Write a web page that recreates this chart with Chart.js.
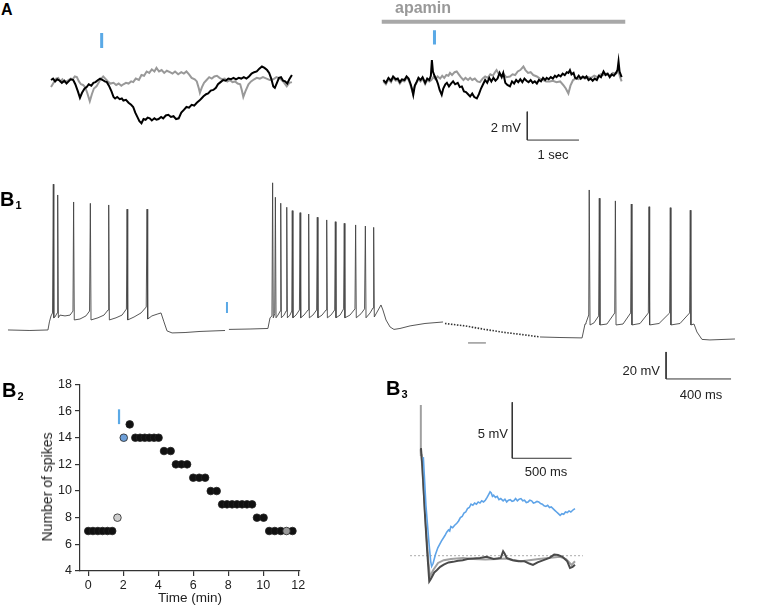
<!DOCTYPE html>
<html>
<head>
<meta charset="utf-8">
<script src="https://cdn.jsdelivr.net/npm/chart.js@4.4.0/dist/chart.umd.min.js"></script>
<style>
body { margin: 0; background: #fff; }
#fig { position: relative; width: 757px; height: 607px; overflow: hidden; font-family: "Liberation Sans", Arial, sans-serif; color: #222; }
canvas { position: absolute; }
.t { position: absolute; font-size: 13px; line-height: 13px; white-space: nowrap; }
.p { position: absolute; font-weight: bold; font-size: 20px; line-height: 20px; color: #000; }
.p sub { font-size: 11px; vertical-align: baseline; position: relative; top: 3px; margin-left: 1px; }
</style>
</head>
<body>
<div id="fig">
  <canvas id="aLeft" width="270" height="160" style="left:40px;top:0"></canvas>
  <canvas id="aRight" width="290" height="160" style="left:370px;top:0"></canvas>
  <canvas id="b1" width="757" height="240" style="left:0;top:170px"></canvas>
  <canvas id="b2" width="320" height="237" style="left:0;top:370px"></canvas>
  <canvas id="b3" width="200" height="200" style="left:400px;top:395px"></canvas>

  <div class="p" style="left:1px;top:2px;font-size:16px;line-height:16px">A</div>
  <div class="p" style="left:0;top:189px">B<sub>1</sub></div>
  <div class="p" style="left:2px;top:380px">B<sub>2</sub></div>
  <div class="p" style="left:386px;top:378px">B<sub>3</sub></div>

  <div class="t" style="left:423px;top:0;transform:translateX(-50%);font-weight:bold;font-size:16px;line-height:16px;color:#999">apamin</div>
  <div class="t" style="left:521px;top:121px;transform:translateX(-100%)">2 mV</div>
  <div class="t" style="left:553px;top:148px;transform:translateX(-50%)">1 sec</div>
  <div class="t" style="left:660px;top:364px;transform:translateX(-100%)">20 mV</div>
  <div class="t" style="left:701px;top:388px;transform:translateX(-50%)">400 ms</div>
  <div class="t" style="left:508px;top:427px;transform:translateX(-100%)">5 mV</div>
  <div class="t" style="left:546px;top:465px;transform:translateX(-50%)">500 ms</div>
  <div class="t" style="left:47px;top:487px;transform:translate(-50%,-50%) rotate(-90deg);font-size:14px;line-height:14px">Number of spikes</div>
</div>

<script>
const FONT = '"Liberation Sans", Arial, sans-serif';
const BLUE = '#5aa9e6';

// ---- A: membrane potential (s, mV), control (left) and apamin (right)
const aLeftGray = [[0.00,-0.5],[0.05,-0.2],[0.10,0.1],[0.14,0.15],[0.18,-0.1],[0.22,0.05],[0.26,-0.15],[0.30,-0.1],[0.34,0.0],[0.38,0.1],[0.42,0.05],[0.46,0.25],[0.50,0.2],[0.54,-0.1],[0.58,-0.3],[0.62,-0.35],[0.66,-0.5],[0.70,-0.9],[0.75,-1.5],[0.79,-1.0],[0.83,-0.6],[0.88,-0.45],[0.92,-0.2],[0.96,0.05],[1.01,0.25],[1.05,0.1],[1.10,-0.1],[1.15,-0.25],[1.21,-0.2],[1.26,-0.35],[1.31,-0.25],[1.36,-0.4],[1.40,-0.3],[1.45,-0.2],[1.50,-0.25],[1.55,-0.1],[1.59,-0.15],[1.64,0.1],[1.70,0.0],[1.75,0.35],[1.80,0.3],[1.85,0.6],[1.90,0.5],[1.95,0.75],[2.00,0.6],[2.04,0.85],[2.09,0.6],[2.14,0.7],[2.19,0.5],[2.24,0.65],[2.30,0.55],[2.35,0.45],[2.40,0.6],[2.46,0.4],[2.52,0.55],[2.57,0.45],[2.62,0.6],[2.67,0.4],[2.72,0.15],[2.78,0.05],[2.82,-0.1],[2.86,-0.6],[2.88,-0.9],[2.92,-0.5],[2.96,-0.2],[3.01,0.0],[3.06,0.2],[3.11,0.1],[3.16,0.25],[3.21,0.3],[3.26,0.15],[3.31,0.05],[3.36,0.1],[3.41,-0.1],[3.46,0.0],[3.51,-0.15],[3.56,-0.1],[3.61,-0.25],[3.66,-0.3],[3.69,-0.7],[3.72,-1.2],[3.76,-0.8],[3.82,-0.3],[3.87,-0.1],[3.93,0.05],[3.98,0.15],[4.04,0.1],[4.10,0.2],[4.17,0.1],[4.23,0.0],[4.30,0.05],[4.36,0.2],[4.43,0.1],[4.49,-0.1],[4.56,-0.45],[4.61,-0.2],[4.66,-0.15]];
const aLeftBlack = [[0.00,0.0],[0.04,0.1],[0.08,-0.1],[0.12,0.05],[0.17,-0.05],[0.21,-0.2],[0.26,-0.05],[0.30,-0.25],[0.34,-0.1],[0.38,0.05],[0.43,0.0],[0.47,-0.3],[0.52,-0.8],[0.56,-1.25],[0.60,-0.9],[0.65,-0.6],[0.69,-0.5],[0.73,-0.3],[0.78,-0.4],[0.82,-0.2],[0.86,-0.15],[0.91,0.0],[0.95,0.1],[1.00,0.0],[1.04,-0.1],[1.08,-0.15],[1.12,-0.4],[1.17,-0.8],[1.21,-1.2],[1.24,-1.3],[1.28,-1.2],[1.33,-1.35],[1.37,-1.3],[1.40,-1.45],[1.45,-1.4],[1.50,-1.6],[1.55,-1.75],[1.59,-1.9],[1.63,-2.3],[1.67,-2.6],[1.71,-2.9],[1.75,-3.05],[1.79,-2.75],[1.83,-2.8],[1.87,-2.65],[1.91,-2.7],[1.95,-2.85],[2.00,-2.7],[2.04,-2.8],[2.08,-2.75],[2.13,-2.6],[2.17,-2.7],[2.22,-2.5],[2.27,-2.45],[2.32,-2.6],[2.37,-2.55],[2.42,-2.75],[2.47,-2.7],[2.52,-2.3],[2.57,-2.1],[2.62,-1.9],[2.67,-1.95],[2.72,-1.75],[2.77,-1.8],[2.82,-1.6],[2.87,-1.45],[2.91,-1.3],[2.95,-1.15],[3.00,-1.0],[3.04,-0.95],[3.09,-0.75],[3.14,-0.7],[3.19,-0.55],[3.23,-0.3],[3.28,-0.15],[3.33,0.0],[3.38,-0.05],[3.43,0.1],[3.48,0.05],[3.53,0.15],[3.58,0.05],[3.63,0.15],[3.68,0.1],[3.73,0.2],[3.78,0.1],[3.83,0.25],[3.88,0.45],[3.93,0.55],[3.98,0.6],[4.03,0.8],[4.08,0.95],[4.13,0.85],[4.18,0.7],[4.22,0.5],[4.26,0.1],[4.30,-0.45],[4.33,-0.55],[4.37,-0.2],[4.41,0.15],[4.45,0.2],[4.49,-0.05],[4.53,-0.1],[4.57,-0.25],[4.61,0.05],[4.66,0.35]];
const aRightGray = [[0.00,-0.1],[0.05,-0.3],[0.10,0.05],[0.15,-0.15],[0.19,0.15],[0.24,-0.05],[0.28,0.0],[0.32,-0.25],[0.36,-0.05],[0.41,-0.1],[0.45,0.15],[0.49,0.0],[0.53,-0.4],[0.57,-0.9],[0.60,-0.5],[0.65,-0.15],[0.68,0.05],[0.72,-0.1],[0.76,0.1],[0.81,-0.3],[0.85,0.0],[0.89,-0.1],[0.93,0.0],[0.97,0.2],[1.01,0.05],[1.05,0.25],[1.10,0.1],[1.14,0.3],[1.18,0.15],[1.22,0.35],[1.26,0.3],[1.29,0.5],[1.33,0.35],[1.38,0.55],[1.42,0.6],[1.46,0.4],[1.50,0.2],[1.55,0.0],[1.59,0.15],[1.64,0.0],[1.68,0.15],[1.72,0.0],[1.77,0.1],[1.82,-0.1],[1.87,-0.15],[1.92,0.1],[1.97,0.25],[2.02,0.15],[2.07,0.4],[2.12,0.3],[2.16,0.55],[2.19,0.7],[2.23,0.45],[2.28,0.3],[2.33,0.4],[2.38,0.2],[2.45,0.25],[2.50,0.4],[2.55,0.35],[2.60,0.6],[2.65,0.7],[2.71,0.95],[2.75,0.7],[2.80,0.5],[2.85,0.55],[2.90,0.35],[2.97,0.25],[3.03,0.1],[3.09,0.0],[3.15,-0.1],[3.22,-0.1],[3.28,-0.05],[3.35,-0.15],[3.42,-0.1],[3.48,-0.35],[3.53,-0.6],[3.58,-0.95],[3.62,-0.4],[3.67,0.0],[3.72,0.1],[3.78,0.05],[3.84,0.2],[3.90,0.1],[3.96,0.2],[4.02,0.15],[4.08,0.3],[4.14,0.2],[4.20,0.4],[4.26,0.35],[4.32,0.45],[4.38,0.3],[4.44,0.5],[4.50,0.45],[4.55,0.6],[4.58,0.2],[4.61,-0.1]];
const aRightBlack = [[0.00,0.0],[0.05,-0.2],[0.10,0.15],[0.15,-0.05],[0.19,0.25],[0.24,0.05],[0.28,0.1],[0.32,-0.15],[0.36,0.05],[0.41,0.0],[0.45,0.25],[0.49,0.1],[0.53,-0.3],[0.56,-0.7],[0.58,-1.05],[0.61,-0.4],[0.65,-0.1],[0.68,0.15],[0.72,0.0],[0.76,0.2],[0.81,-0.2],[0.85,0.1],[0.89,0.0],[0.92,0.3],[0.94,1.4],[0.96,0.6],[0.99,0.3],[1.03,0.0],[1.06,-0.3],[1.09,-0.7],[1.13,-1.05],[1.16,-0.6],[1.20,-0.3],[1.23,-0.2],[1.27,-0.45],[1.31,-0.25],[1.35,-0.1],[1.39,-0.3],[1.44,-0.2],[1.48,-0.5],[1.52,-0.45],[1.56,-0.8],[1.60,-0.85],[1.64,-1.0],[1.68,-1.15],[1.72,-0.95],[1.76,-1.2],[1.81,-1.3],[1.85,-1.0],[1.89,-0.6],[1.93,-0.3],[1.97,0.0],[2.01,-0.2],[2.05,0.15],[2.09,-0.1],[2.13,0.15],[2.17,-0.05],[2.21,0.1],[2.25,0.5],[2.29,0.2],[2.32,0.5],[2.36,-0.2],[2.40,-0.35],[2.45,-0.45],[2.49,-0.1],[2.53,-0.25],[2.57,0.0],[2.61,-0.15],[2.65,0.05],[2.69,-0.15],[2.73,0.1],[2.77,-0.05],[2.81,-0.15],[2.85,0.0],[2.89,-0.2],[2.93,-0.1],[2.97,-0.25],[3.01,0.0],[3.05,-0.1],[3.09,0.15],[3.13,0.0],[3.16,0.15],[3.20,0.05],[3.24,0.2],[3.28,0.1],[3.32,0.3],[3.35,0.2],[3.39,0.35],[3.43,0.25],[3.47,0.45],[3.51,0.35],[3.55,0.55],[3.58,0.5],[3.61,0.7],[3.64,0.4],[3.68,0.5],[3.71,0.15],[3.74,0.1],[3.78,0.3],[3.82,0.1],[3.86,0.25],[3.90,0.15],[3.93,0.25],[3.97,0.0],[4.01,0.1],[4.05,-0.05],[4.09,0.1],[4.13,0.0],[4.17,0.3],[4.21,0.2],[4.26,0.6],[4.30,0.35],[4.34,0.45],[4.38,0.2],[4.42,0.4],[4.46,0.3],[4.50,0.5],[4.53,0.7],[4.55,1.3],[4.57,0.6],[4.59,0.4],[4.61,0.2]];
const aLeftStim = [[0.98,3.31],[0.98,2.25]];
const aRightStim = [[0.99,3.5],[0.99,2.5]];
const apaminBar = [[-0.03,4.1],[4.68,4.1]];
const aScaleBar = [[2.785,-2.23],[2.785,-4.23],[3.785,-4.23]]; // 2 mV, 1 sec

// ---- B1: whole-cell trace (ms, mV)
const b1Seg1 = [[0,-65],[135,-65.4],[246,-65],[255,-59],[265,-54.6],[274,-52.4],[279,43],[282,-56],[289,-55.4],[303,-52.4],[306,35],[310,-56],[320,-54],[351,-54.6],[382,-54],[400,-51],[404,29.8],[408,-57.6],[443,-56.9],[480,-54.6],[502,-51],[507,28.8],[511,-57.6],[554,-56],[591,-54],[616,-50.2],[620,27.6],[624,-57.6],[665,-56],[702,-54],[729,-49.5],[733,24.5],[737,-57.6],[776,-55.4],[819,-52.4],[851,-48],[856,24.5],[860,-56.9],[886,-54.6],[923,-53.1],[942,-52.4],[960,-59],[979,-65.7],[1010,-67.2],[1090,-66.9],[1182,-66.1],[1336,-65.4]];
const b1Seg2 = [[1360,-64.6],[1490,-64.3],[1600,-63.9],[1613,-56],[1625,-54.6],[1629,44],[1633,-56],[1642,-53],[1646,33.3],[1650,-56],[1662,-54],[1676,-51],[1679,28.9],[1683,-56],[1699,-54],[1712,-51],[1716,25.9],[1720,-56],[1736,-54],[1747,-51],[1750,23.4],[1754,-56],[1773,-54],[1794,-50.2],[1798,21.9],[1802,-56],[1822,-54],[1847,-50.2],[1851,20.9],[1855,-56],[1877,-54],[1900,-50.2],[1904,18.5],[1908,-56],[1933,-54],[1958,-50.2],[1962,16.5],[1966,-56],[1988,-54],[2011,-50.2],[2015,15.2],[2019,-56],[2044,-54],[2066,-49.4],[2070,14],[2074,-56],[2105,-54],[2136,-49.4],[2140,12.8],[2144,-56],[2173,-53],[2195,-49.4],[2200,12],[2204,-56],[2229,-52.4],[2247,-48.7],[2251,11],[2255,-55.4],[2272,-51.7],[2296,-46.5],[2308,-50.2],[2327,-57.6],[2352,-62.8],[2376,-64.6],[2413,-63.9],[2475,-62],[2567,-60.2],[2678,-59.1]];
const b1Dotted = [[2690,-60.2],[2813,-62],[2936,-64.6],[3060,-66.9],[3183,-68.7],[3275,-70.2]];
const b1Seg3 = [[3275,-70.2],[3398,-70.6],[3534,-70.9],[3552,-60.6],[3558,-59.8],[3575,-53.9],[3578,38.7],[3583,-61.3],[3607,-59.8],[3636,-54.6],[3640,32.6],[3644,-61.3],[3687,-60.6],[3735,-52.4],[3739,30.6],[3743,-61.3],[3786,-60.6],[3833,-52.4],[3837,28.3],[3841,-61.3],[3891,-60.2],[3942,-52.4],[3946,26.3],[3950,-61.3],[4008,-60.2],[4073,-52.4],[4077,25.6],[4081,-61.3],[4137,-60.2],[4196,-52.4],[4200,23.7],[4204,-61.3],[4223,-60.6],[4241,-66.5],[4272,-72],[4321,-72.4],[4475,-71.7]];
const b1Stim = [[1348,-44.3],[1348,-52.4]];
const b1Break = [[2832,-74.6],[2942,-74.6]];
const b1ScaleBar = [[4051,-81.3],[4051,-101.3],[4451,-101.3]]; // 20 mV, 400 ms

// ---- B2: number of spikes per sweep vs time (min)
const b2Time = [0,0.27,0.55,0.82,1.1,1.37,2.37,2.69,2.96,3.23,3.49,3.76,4.02,4.33,4.71,5.01,5.33,5.65,6.0,6.34,6.68,7.0,7.34,7.65,7.93,8.22,8.5,8.79,9.07,9.36,9.64,10.02,10.34,10.66,11.0,11.67];
const b2Spikes = [7,7,7,7,7,7,15,14,14,14,14,14,14,13,13,12,12,12,11,11,11,10,10,9,9,9,9,9,9,9,8,8,7,7,7,7];
const b2PreTime = [1.67], b2PreSpikes = [8];
const b2LightTime = [2.03], b2LightSpikes = [14];
const b2LateTime = [11.33], b2LateSpikes = [7];
const b2Stim = [[1.76,15.02],[1.76,16.13]];
const b2XTicks = [0,2,4,6,8,10,12];
const b2YTicks = [4,6,8,10,12,14,16,18];

// ---- B3: averaged afterpotentials (ms, mV relative to baseline)
const b3Blue = [[28,8.8],[50,4.5],[75,1.2],[90,-0.5],[98,-0.95],[110,-0.7],[130,0.1],[150,0.7],[180,1.3],[210,1.8],[225,2.1],[240,2.3],[250,2.2],[260,2.6],[275,2.5],[290,2.7],[310,2.9],[325,3.1],[340,3.4],[355,3.5],[370,3.8],[385,3.9],[400,4.2],[415,4.3],[430,4.6],[445,4.5],[460,4.7],[475,4.6],[490,4.8],[505,4.7],[520,4.9],[535,4.8],[550,4.95],[565,5.2],[580,5.5],[590,5.7],[600,5.6],[610,5.3],[620,5.4],[635,5.2],[650,5.3],[665,5.0],[680,5.1],[700,4.9],[715,5.05],[730,4.8],[745,4.95],[760,5.0],[775,4.85],[790,4.9],[805,5.1],[820,4.9],[835,5.05],[850,5.1],[865,4.9],[880,4.95],[895,4.75],[910,4.8],[925,4.95],[940,4.9],[955,4.7],[970,4.75],[985,4.85],[1000,4.8],[1015,4.65],[1030,4.6],[1045,4.45],[1060,4.4],[1075,4.5],[1090,4.3],[1105,4.35],[1120,4.2],[1135,4.05],[1150,3.9],[1165,3.75],[1180,3.6],[1195,3.75],[1210,3.7],[1225,3.9],[1240,3.85],[1255,4.0],[1270,3.9],[1290,4.1],[1305,4.2]];
const b3Dark = [[8,9.6],[20,8],[40,4],[60,0.5],[78,-2.3],[90,-2.1],[100,-1.9],[120,-1.5],[141,-1.3],[170,-1.0],[200,-0.8],[240,-0.6],[278,-0.55],[320,-0.45],[360,-0.4],[400,-0.3],[450,-0.25],[505,-0.2],[560,-0.1],[620,-0.3],[680,-0.2],[700,0.4],[712,0.2],[730,-0.2],[780,-0.4],[830,-0.5],[880,-0.5],[920,-0.7],[951,-0.83],[990,-0.6],[1040,-0.4],[1090,-0.2],[1130,0.1],[1162,0.06],[1200,-0.1],[1240,-0.5],[1263,-1.1],[1285,-1.0],[1305,-0.8]];
const b3Light = [[5,9.5],[6,13.45],[8,9.0],[12,9],[30,6],[50,2.5],[70,-0.5],[84,-1.87],[110,-1.3],[152,-0.65],[200,-0.4],[260,-0.3],[362,-0.2],[450,-0.3],[550,-0.35],[650,-0.3],[720,-0.25],[783,-0.38],[850,-0.5],[920,-0.4],[1000,-0.3],[1080,-0.2],[1179,-0.09],[1230,-0.3],[1277,-0.83],[1305,-0.5]];
const b3Baseline = [[-84,0],[1372,0]];
const b3ScaleBar = [[777,13.7],[777,8.7],[1277,8.7]]; // 5 mV, 500 ms

function traceChart(id, xMin, xMax, yMin, yMax, datasets) {
    return new Chart(document.getElementById(id), {
        type: 'line',
        data: {
            datasets: datasets.map(d => Object.assign({
                pointRadius: 0, fill: false, tension: 0, clip: false, borderWidth: 1, borderColor: '#333'
            }, d))
        },
        options: {
            animation: false, responsive: false, events: [],
            layout: { padding: 0 },
            plugins: { legend: { display: false }, tooltip: { enabled: false } },
            scales: {
                x: { type: 'linear', display: false, min: xMin, max: xMax },
                y: { type: 'linear', display: false, min: yMin, max: yMax }
            }
        }
    });
}

traceChart('aLeft', -0.213, 5.010, -5.634, 5.634, [
    { data: aLeftStim, borderColor: BLUE, borderWidth: 3 },
    { data: aLeftBlack, borderColor: '#000', borderWidth: 2 },
    { data: aLeftGray, borderColor: '#999', borderWidth: 2 }
]);

traceChart('aRight', -0.257, 5.352, -5.634, 5.634, [
    { data: aRightStim, borderColor: BLUE, borderWidth: 3 },
    { data: apaminBar, borderColor: '#a8a8a8', borderWidth: 4 },
    { data: aScaleBar, borderColor: '#333', borderWidth: 1 },
    { data: aRightBlack, borderColor: '#000', borderWidth: 2 },
    { data: aRightGray, borderColor: '#999', borderWidth: 2 }
]);

traceChart('b1', -49.2, 4610.8, -124.3, 53.5, [
    { data: b1Seg1, borderColor: '#444', borderWidth: 0.9 },
    { data: b1Seg2, borderColor: '#444', borderWidth: 0.9 },
    { data: b1Seg3, borderColor: '#444', borderWidth: 0.9 },
    { data: b1Dotted, borderColor: '#333', borderWidth: 1.6, borderDash: [1.5, 1.5] },
    { data: b1Stim, borderColor: BLUE, borderWidth: 2 },
    { data: b1Break, borderColor: '#999', borderWidth: 1.5 },
    { data: b1ScaleBar, borderColor: '#333', borderWidth: 1 }
]);

traceChart('b3', -168.4, 1515.6, -3.51, 14.35, [
    { data: b3ScaleBar, borderColor: '#333', borderWidth: 1 },
    { data: b3Blue, borderColor: '#5fa4e8', borderWidth: 1.6 },
    { data: b3Dark, borderColor: '#4a4a4a', borderWidth: 2 },
    { data: b3Light, borderColor: '#a0a0a0', borderWidth: 2 },
    { data: b3Baseline, borderColor: '#aaa', borderWidth: 1, borderDash: [2, 2] }
]);

const pts = (xs, ys) => xs.map((x, i) => ({ x: x, y: ys[i] }));
const dot = { pointRadius: 3.8, borderWidth: 0.8, borderColor: '#222', clip: false };

new Chart(document.getElementById('b2'), {
    type: 'scatter',
    data: {
        datasets: [
            { data: b2Stim.map(p => ({ x: p[0], y: p[1] })), showLine: true, pointRadius: 0, borderColor: BLUE, borderWidth: 2.2, clip: false },
            Object.assign({ data: pts(b2LightTime, b2LightSpikes), backgroundColor: '#6d9fd8' }, dot),
            Object.assign({ data: pts(b2PreTime, b2PreSpikes), backgroundColor: '#cdcdcd' }, dot),
            Object.assign({ data: pts(b2LateTime, b2LateSpikes), backgroundColor: '#999' }, dot),
            Object.assign({ data: pts(b2Time, b2Spikes), backgroundColor: '#111' }, dot)
        ]
    },
    options: {
        animation: false, responsive: false, events: [],
        layout: { padding: { top: 14.4, right: 20, left: 0, bottom: 0 } },
        plugins: { legend: { display: false }, tooltip: { enabled: false } },
        scales: {
            x: {
                type: 'linear', min: -0.47, max: 12.1,
                afterBuildTicks: s => { s.ticks = b2XTicks.map(v => ({ value: v })); },
                afterFit: s => { s.height = 36; },
                grid: { drawOnChartArea: false, tickLength: 5, color: '#333', lineWidth: 1.2 },
                border: { color: '#333', width: 1.2 },
                ticks: { color: '#222', font: { family: FONT, size: 12.5 }, padding: 2, maxRotation: 0 },
                title: { display: true, text: 'Time (min)', color: '#222', font: { family: FONT, size: 13.5 }, padding: { top: 0, bottom: 1 } }
            },
            y: {
                type: 'linear', min: 4, max: 18,
                afterBuildTicks: s => { s.ticks = b2YTicks.map(v => ({ value: v })); },
                afterFit: s => { s.width = 80; },
                grid: { drawOnChartArea: false, tickLength: 5, color: '#333', lineWidth: 1.2 },
                border: { color: '#333', width: 1.2 },
                ticks: { color: '#222', font: { family: FONT, size: 12.5 }, padding: 3 }
            }
        }
    }
});
</script>
</body>
</html>
